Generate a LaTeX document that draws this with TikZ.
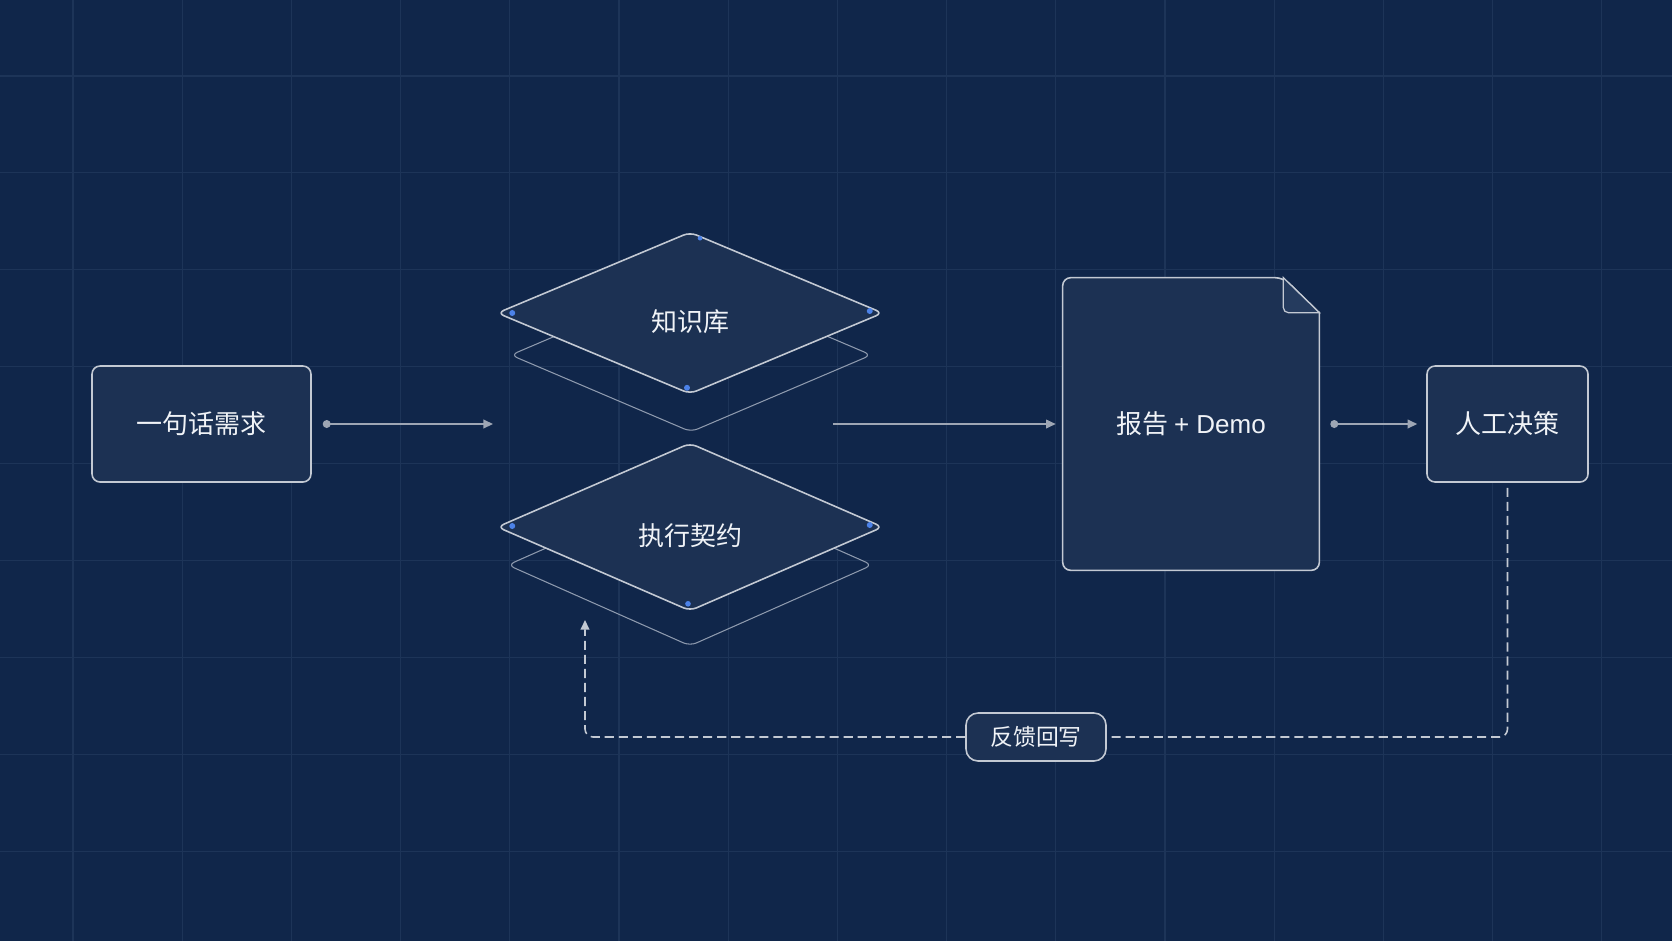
\documentclass[tikz,border=0pt]{standalone}
\usepackage{fontspec}
\setmainfont{Noto Sans CJK SC}
\newfontfamily\latinfont{Liberation Sans}
\usetikzlibrary{arrows.meta,shapes.geometric,calc,backgrounds}

\definecolor{bgnavy}{HTML}{10264A}
\definecolor{gridline}{HTML}{1D3458}
\definecolor{boxfill}{HTML}{1C3153}
\definecolor{foldfill}{HTML}{253B5E}
\definecolor{boxline}{HTML}{C3C9D3}
\definecolor{arrowgray}{HTML}{9EA6B4}
\definecolor{layerline}{HTML}{8E9AAE}
\definecolor{dotblue}{HTML}{4C82E8}
\definecolor{labeltext}{HTML}{F0F3F7}

\tikzset{
  card/.style={draw=boxline, line width=0.9pt, fill=boxfill, rounded corners=0.16cm,
    text=labeltext, font=\fontsize{14.8pt}{18pt}\selectfont},
  plate/.style={diamond, draw=boxline, line width=0.9pt, fill=boxfill, rounded corners=0.14cm,
    inner sep=0pt},
  platetext/.style={yshift=-0.17cm, text=labeltext, font=\fontsize{14.8pt}{18pt}\selectfont},
  layer/.style={diamond, draw=layerline, line width=0.6pt, rounded corners=0.14cm, inner sep=0pt},
  flow/.style={draw=arrowgray, line width=0.8pt, -{Triangle[length=5.5pt,width=5pt]}},
  feedback/.style={draw=boxline, line width=0.9pt, dash pattern=on 5.2pt off 2.8pt, rounded corners=0.16cm},
  tag/.style={card, rounded corners=0.24cm, font=\fontsize{13pt}{15pt}\selectfont},
  pin/.style={fill=dotblue}
}

\begin{document}
\begin{tikzpicture}[x=0.02cm, y=-0.02cm]
  \useasboundingbox (0,0) rectangle (1672,941);
  \begin{pgfonlayer}{background}
    \fill[bgnavy] (0,0) rectangle (1672,941);
    % grid
    \foreach \i in {0,...,14}
      \draw[gridline, line width=0.6pt] (73+\i*109.2,0) -- (73+\i*109.2,941);
    \foreach \j in {0,...,8}
      \draw[gridline, line width=0.6pt] (0,76+\j*96.9) -- (1672,76+\j*96.9);
  \end{pgfonlayer}

  \node[card, minimum width=4.38cm, minimum height=2.32cm] (need) at (201.5,424) {一句话需求};

  % stacked plates
  \node[layer, minimum width=7.22cm, minimum height=3.08cm] (kblayer) at (691,355) {};
  \node[plate, minimum width=7.72cm, minimum height=3.24cm,
        label={[platetext]center:知识库}] (kb) at (690,313) {};
  \node[layer, minimum width=7.3cm, minimum height=3.24cm] (contractlayer) at (690,565) {};
  \node[plate, minimum width=7.72cm, minimum height=3.36cm,
        label={[platetext]center:执行契约}] (contract) at (690,527) {};

  \fill[pin] ($(kb.north)+(10,7)$) circle (1.3pt);
  \fill[pin] ($(kb.west)+(16,0)$) circle (1.7pt);
  \fill[pin] ($(kb.east)+(-14,-2)$) circle (1.7pt);
  \fill[pin] ($(kb.south)+(-3,-7)$) circle (1.7pt);
  \fill[pin] ($(contract.west)+(16,-1)$) circle (1.7pt);
  \fill[pin] ($(contract.east)+(-14,-2)$) circle (1.7pt);
  \fill[pin] ($(contract.south)+(-2,-8)$) circle (1.6pt);

  \coordinate (stackin) at (493,424);
  \coordinate (stackout) at (833,424);

  % report document
  \node[minimum width=5.12cm, minimum height=5.84cm, text=labeltext,
        font=\fontsize{14.8pt}{18pt}\selectfont] (report) at (1191,424) {报告 {\latinfont + Demo}};
  \begin{pgfonlayer}{background}
    \draw[draw=boxline, line width=0.9pt, fill=boxfill, rounded corners=0.16cm]
      (report.north west) -- ($(report.north east)+(-36,0)$)
      [sharp corners] -- ($(report.north east)+(0,35)$)
      [rounded corners=0.16cm] -- (report.south east) -- (report.south west) -- cycle;
    \draw[draw=boxline, line width=0.7pt, fill=foldfill, rounded corners=0.1cm]
      ($(report.north east)+(-36,0)$) -- ($(report.north east)+(-36,35)$)
      [sharp corners] -- ($(report.north east)+(0,35)$) -- cycle;
  \end{pgfonlayer}

  \node[card, minimum width=3.22cm, minimum height=2.32cm] (decide) at (1507.5,424) {人工决策};

  \draw[flow, {Circle[length=4.5pt]}-{Triangle[length=5.5pt,width=5pt]}] ($(need.east)+(11,0)$) -- (stackin);
  \draw[flow] (stackout) -- ($(report.west)+(-7,0)$);
  \draw[flow, {Circle[length=4.5pt]}-{Triangle[length=5.5pt,width=5pt]}] ($(report.east)+(11,0)$) -- ($(decide.west)+(-9,0)$);

  % feedback loop
  \node[tag, minimum width=2.8cm, minimum height=0.96cm] (fb) at (1036,737) {反馈回写};
  \coordinate (loopback) at (585,620);
  \draw[feedback] ($(decide.south)+(0,5)$) |- (fb.east);
  \draw[feedback, -{Triangle[length=5.5pt,width=5pt]}] (fb.west) -| (loopback);
\end{tikzpicture}
\end{document}
